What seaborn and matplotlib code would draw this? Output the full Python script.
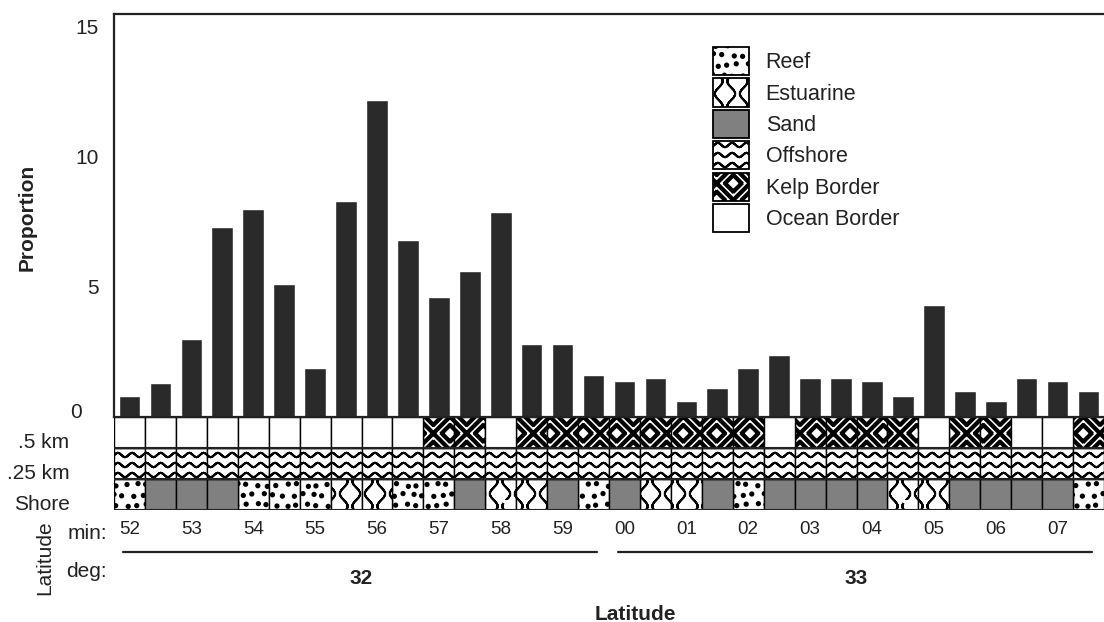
"""Habitat strip + proportion bars by latitude (seaborn + matplotlib)."""

import warnings

import matplotlib
matplotlib.use("Agg")
import matplotlib.pyplot as plt
import matplotlib.hatch as mhatch
import matplotlib.patches as mpatches
from matplotlib.path import Path
from matplotlib.ticker import MultipleLocator
from matplotlib.transforms import blended_transform_factory, ScaledTranslation
import numpy as np
import pandas as pd
import seaborn as sns

warnings.filterwarnings("ignore", message=".*hatch must consist.*")

# ---- data -----------------------------------------------------------------
MINUTES = ["52", "53", "54", "55", "56", "57", "58", "59",
           "00", "01", "02", "03", "04", "05", "06", "07"]
DEGREES = ["32", "32", "32", "32", "32", "32", "32", "32",
           "33", "33", "33", "33", "33", "33", "33", "33"]
PROPORTION = [0.8, 1.3, 3.0, 7.3, 8.0, 5.1, 1.9, 8.3, 12.2, 6.8, 4.6, 5.6,
              7.9, 2.8, 2.8, 1.6, 1.4, 1.5, 0.6, 1.1, 1.9, 2.4, 1.5, 1.5,
              1.4, 0.8, 4.3, 1.0, 0.6, 1.5, 1.4, 1.0]
# zone codes per half-minute cell: O=Ocean Border, K=Kelp Border,
# W=Offshore, R=Reef, S=Sand, E=Estuarine
BORDER_ZONE = list("OOOOOOOOOOKKOKKKKKKKKOKKKKOKKOOK")
OFFSHORE_ZONE = list("WWWWWWWWWWWWWWWWWWWWWWWWWWWWWWWW")
SHORE_ZONE = list("RSSSRRREERRSEESRSEESRSSSSEESSSSR")
ZONE_NAMES = {"R": "Reef", "E": "Estuarine", "S": "Sand",
              "W": "Offshore", "K": "Kelp Border", "O": "Ocean Border"}
LEGEND_ORDER = ["R", "E", "S", "W", "K", "O"]


# ---- custom hatch textures --------------------------------------------------
def _stroke(xy):
    # forward + back so the fill pass covers no area, only the stroke shows
    xy = np.asarray(xy, float)
    v = np.vstack([xy, xy[-2::-1]])
    c = np.full(len(v), Path.LINETO, dtype=Path.code_type)
    c[0] = Path.MOVETO
    return v, c


def _closed(v):
    v = np.vstack([v, v[:1]])
    c = np.full(len(v), Path.LINETO, dtype=Path.code_type)
    c[0] = Path.MOVETO
    c[-1] = Path.CLOSEPOLY
    return v, c


def _dot(cx, cy, r):
    t = np.linspace(0, 2 * np.pi, 12, endpoint=False)
    return _closed(np.column_stack([cx + r * np.cos(t), cy + r * np.sin(t)]))


def _band(p0, p1, hw):
    p0, p1 = np.asarray(p0, float), np.asarray(p1, float)
    d = p1 - p0
    n = np.array([-d[1], d[0]]) / np.hypot(*d) * hw
    return _closed(np.array([p0 + n, p1 + n, p1 - n, p0 - n]))


class _Texture(mhatch.HatchPatternBase):
    char = ""

    def __init__(self, hatch, density):
        self.pieces = self.build() if self.char in hatch else []
        self.num_vertices = sum(len(v) for v, _ in self.pieces)

    def set_vertices_and_codes(self, vertices, codes):
        pos = 0
        for v, c in self.pieces:
            vertices[pos:pos + len(v)] = v
            codes[pos:pos + len(v)] = c
            pos += len(v)


class WaveTexture(_Texture):
    char = "W"

    def build(self):
        x = np.linspace(0, 1, 7 * 8 + 1)
        return [_stroke(np.column_stack([x, (k + 0.5) / 10 + 0.022 * np.sin(2 * np.pi * 7 * x)]))
                for k in range(10)]


class ArchTexture(_Texture):
    char = "E"

    def build(self):
        y = np.linspace(0, 1, 4 * 10 + 1)
        return [_stroke(np.column_stack([(k + 0.5) / 8 + 0.04 * np.sin(2 * np.pi * 4 * y + k * np.pi), y]))
                for k in range(8)]


class DotTexture(_Texture):
    char = "R"

    def build(self):
        out = []
        for j in range(10):
            for i in range(10):
                cx = (i + 0.3 + 0.4 * (j % 2)) / 10 + 0.014 * np.sin(i * 2.3 + j * 1.7)
                cy = (j + 0.5) / 10 + 0.014 * np.cos(i * 1.1 + j * 2.9)
                out.append(_dot(cx, cy, 0.016))
        return out


class WeaveTexture(_Texture):
    char = "K"

    def build(self):
        b = 1 / 6
        out = []
        for j in range(6):
            for i in range(6):
                x0, y0 = i * b, j * b
                if (i + j) % 2 == 0:
                    segs = [[(x0, y0), (x0 + b, y0 + b)],
                            [(x0 + b / 2, y0), (x0 + b, y0 + b / 2)],
                            [(x0, y0 + b / 2), (x0 + b / 2, y0 + b)]]
                else:
                    segs = [[(x0, y0 + b), (x0 + b, y0)],
                            [(x0, y0 + b / 2), (x0 + b / 2, y0)],
                            [(x0 + b / 2, y0 + b), (x0 + b, y0 + b / 2)]]
                out.extend(_band(s[0], s[1], 0.011) for s in segs)
        return out


mhatch._hatch_types.extend([WaveTexture, ArchTexture, DotTexture, WeaveTexture])

ZONE_STYLE = {
    "R": dict(facecolor="white", hatch="R"),
    "E": dict(facecolor="white", hatch="E"),
    "S": dict(facecolor="#808080", hatch=None),
    "W": dict(facecolor="white", hatch="W"),
    "K": dict(facecolor="white", hatch="K"),
    "O": dict(facecolor="white", hatch=None),
}

# ---- style ------------------------------------------------------------------
sns.set_style("white")
plt.rcParams.update({
    "font.family": ["Liberation Sans", "DejaVu Sans"],
    "hatch.linewidth": 1.5,
    "hatch.color": "black",
    "text.color": "#222222",
    "axes.edgecolor": "#222222",
})

W, H = 1104, 622
fig = plt.figure(figsize=(W / 100, H / 100), dpi=100)
ax = fig.add_axes([114 / W, 1 - 417 / H, 990 / W, 403 / H])
ax_s = fig.add_axes([114 / W, 1 - 510 / H, 990 / W, 93 / H])

n_cells = len(PROPORTION)
cells = np.arange(n_cells)

# ---- bars -------------------------------------------------------------------
df = pd.DataFrame({"cell": cells, "proportion": PROPORTION})
sns.barplot(data=df, x="cell", y="proportion", color="#2a2a2a", saturation=1,
            width=0.7, errorbar=None, ax=ax)
ax.set_xlim(-0.5, n_cells - 0.5)
ax.set_ylim(0, 15.5)
ax.set_xlabel("")
ax.set_ylabel("")
ax.tick_params(axis="x", length=0, labelbottom=False)
ax.set_yticks([0, 5, 10, 15], labels=["", "5", "10", "15"])
ax.yaxis.set_minor_locator(MultipleLocator(1))
ax.tick_params(axis="y", which="major", direction="in", length=6.5, width=1.3,
               pad=11, labelsize=15, colors="#222222")
ax.tick_params(axis="y", which="minor", direction="in", length=3.5, width=1.2)
for side in ["left", "top", "bottom"]:
    ax.spines[side].set_linewidth(1.6)
ax.spines["right"].set_visible(False)

# "0" sits level with the top of the habitat strip
ax.text(-0.032, 0, "0", transform=blended_transform_factory(ax.transAxes, ax.transData)
        + ScaledTranslation(0, 3 / 72, fig.dpi_scale_trans),
        ha="right", va="center", fontsize=15)

# ---- habitat strip ------------------------------------------------------------
for row, zones in enumerate([SHORE_ZONE, OFFSHORE_ZONE, BORDER_ZONE]):
    for code in LEGEND_ORDER:
        idx = [i for i, z in enumerate(zones) if z == code]
        if idx:
            ax_s.bar(idx, 1, bottom=row, width=1, edgecolor="black",
                     linewidth=1.0, **ZONE_STYLE[code])
for yb in [0, 1, 2, 3]:
    ax_s.axhline(yb, color="#222222", lw=1.5)

ax_s.set_xlim(-0.5, n_cells - 0.5)
ax_s.set_ylim(0, 3)
for side in ax_s.spines.values():
    side.set_visible(False)
ax_s.set_yticks([0, 1, 2], labels=["", "", ""])
ax_s.tick_params(axis="y", direction="out", length=23, width=1.5, colors="#222222")
ax_s.set_xticks(cells, labels=[MINUTES[i // 2] if i % 2 == 0 else "" for i in cells])
ax_s.tick_params(axis="x", direction="out", length=5.8, width=1.2, pad=2,
                 labelsize=13.5, colors="#222222")

row_tf = (blended_transform_factory(ax_s.transAxes, ax_s.transData)
          + ScaledTranslation(0, 4 / 72, fig.dpi_scale_trans))
for yb, lab in zip([0, 1, 2], ["Shore", ".25 km", ".5 km"]):
    ax_s.text(-0.045, yb, lab, transform=row_tf, ha="right", va="center", fontsize=15)

# degree grouping lines under the minute labels
deg_tf = blended_transform_factory(ax_s.transData, fig.transFigure)
for deg in dict.fromkeys(DEGREES):
    mins = [i for i, d in enumerate(DEGREES) if d == deg]
    first, last = 2 * mins[0], 2 * mins[-1] + 1
    ax_s.plot([first - 0.2, last + 0.1], [1 - 552 / H] * 2, color="#222222",
              lw=1.6, transform=deg_tf, clip_on=False)
    ax_s.text((first + last) / 2, 1 - 578 / H, deg, transform=deg_tf,
              ha="center", va="center", fontsize=15, fontweight="bold")

fig.text(107 / W, 1 - 539 / H, "min:", ha="right", va="baseline", fontsize=15)
fig.text(107 / W, 1 - 577 / H, "deg:", ha="right", va="baseline", fontsize=15)
fig.text(45 / W, 1 - 558 / H, "Latitude", rotation=90, ha="center", va="center", fontsize=15)
fig.text(635 / W, 1 - 614 / H, "Latitude", ha="center", va="center",
         fontsize=15, fontweight="bold")
fig.text(27 / W, 1 - 217 / H, "Proportion", rotation=90, ha="center", va="center",
         fontsize=15, fontweight="bold")

# ---- legend -------------------------------------------------------------------
handles = [mpatches.Patch(edgecolor="black", linewidth=1.3, label=ZONE_NAMES[c],
                          **ZONE_STYLE[c]) for c in LEGEND_ORDER]
fig.legend(handles=handles, loc="upper left", bbox_to_anchor=(713 / W, 1 - 47 / H),
           bbox_transform=fig.transFigure, frameon=False, fontsize=15.5,
           handlelength=1.65, handleheight=1.65, handletextpad=0.8,
           labelspacing=0.14, borderpad=0, borderaxespad=0)

fig.savefig("out.png", dpi=100)
